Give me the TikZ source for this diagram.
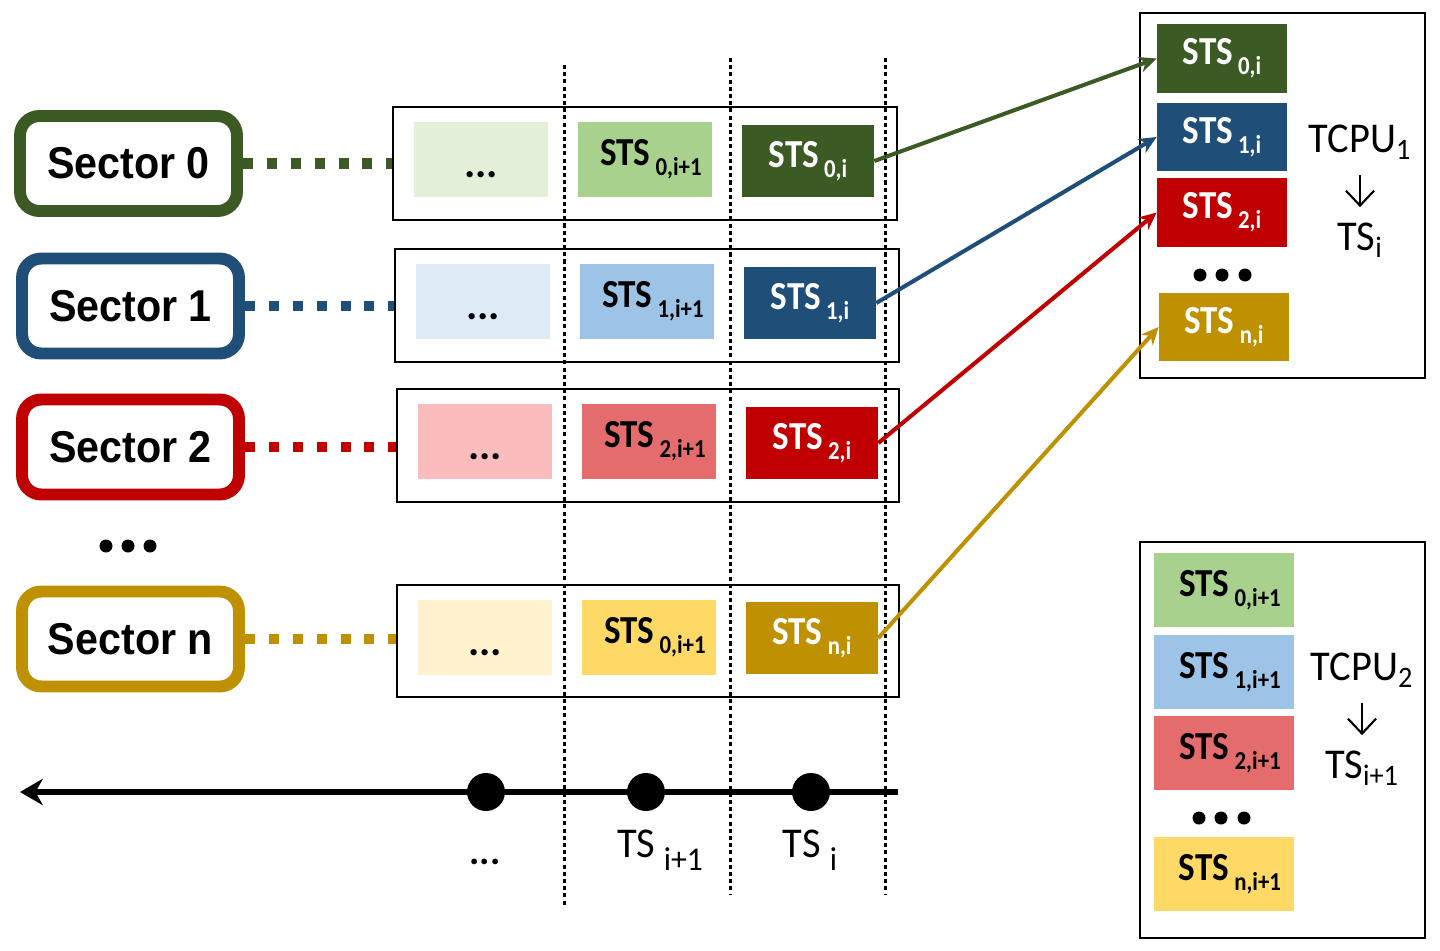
\documentclass[tikz,border=0pt]{standalone}
\usepackage{graphicx}
\usepackage{fontspec}
\setmainfont{Carlito}
\newfontfamily\arialf{Liberation Sans}
\usetikzlibrary{arrows.meta}
\definecolor{gD}{HTML}{3C5A24}
\definecolor{gM}{HTML}{A9D18E}
\definecolor{gL}{HTML}{E2F0D9}
\definecolor{bD}{HTML}{1F4E79}
\definecolor{bM}{HTML}{9DC3E6}
\definecolor{bL}{HTML}{DEEBF7}
\definecolor{rD}{HTML}{C00000}
\definecolor{rM}{HTML}{E46C6C}
\definecolor{rL}{HTML}{FABCBC}
\definecolor{yD}{HTML}{BF9000}
\definecolor{yM}{HTML}{FFD966}
\definecolor{yL}{HTML}{FFF2CC}
\newcommand\stsx[1]{\scalebox{1}[1.13]{STS\hspace{3pt}\raisebox{-5pt}{\fontsize{13}{14}\selectfont #1}}}
\newcommand\stsy[1]{\hspace*{6.8pt}\stsx{#1}}
\newcommand\celldots{\vphantom{S}\smash{\raisebox{-4pt}{\fontsize{24}{26}\selectfont ...}}}
\begin{document}
\begin{tikzpicture}[x=0.02cm,y=-0.02cm,
  sector/.style={draw, line width=6.8pt, rounded corners=11pt, fill=white,
    minimum width=4.34cm, minimum height=1.9cm, inner sep=0pt,
    font=\arialf\bfseries\fontsize{23.5}{26}\selectfont},
  rowbox/.style={draw, line width=1.1pt, minimum width=10.08cm, minimum height=2.26cm, inner sep=0pt},
  cell/.style={minimum width=2.68cm, minimum height=1.5cm, inner sep=0pt,
    font=\bfseries\fontsize{20}{24}\selectfont},
  dcell/.style={cell, minimum width=2.64cm, minimum height=1.44cm, text=white},
  rcell/.style={cell, minimum width=2.6cm, minimum height=1.38cm},
  qcell/.style={cell, minimum width=2.8cm, minimum height=1.48cm},
  link/.style={line width=5.7pt, dash pattern=on 5.7pt off 7.9pt},
  vdot/.style={line width=1.7pt, dash pattern=on 2.3pt off 1.8pt},
  feed/.style={line width=2.3pt, -{Stealth[length=10pt,width=9pt]}},
  tdot/.style={circle, fill=black, minimum size=0.76cm, inner sep=0pt},
  bigtxt/.style={font=\fontsize{23}{26}\selectfont, inner sep=0pt},
  down/.style={line width=1.2pt, -{Straight Barb[length=8.5pt,width=16pt]},
    shorten <=18.7pt, shorten >=18.7pt},
]
\useasboundingbox (0,0) rectangle (1440,950);

% row boxes
\node[rowbox] (row0) at (645,163.5) {};
\node[rowbox] (row1) at (647,305.5) {};
\node[rowbox, minimum width=10.04cm] (row2) at (648,445.5) {};
\node[rowbox, minimum width=10.04cm, minimum height=2.24cm] (rown) at (648,641) {};

% vertical dotted lines
\draw[vdot] (564,65) -- (564,905);
\draw[vdot] (730,58) -- (730,895);
\draw[vdot] (885,58) -- (885,895);

% cells row 0
\node[cell, fill=gL] (l0) at (481,159.5) {\celldots};
\node[cell, fill=gM] (m0) at (645,159.5) {\stsy{0,i+1}};
\node[dcell, fill=gD] (d0) at (808,161) {\stsx{0,i}};
% row 1
\node[cell, fill=bL] (l1) at (483,301.5) {\celldots};
\node[cell, fill=bM] (m1) at (647,301.5) {\stsy{1,i+1}};
\node[dcell, fill=bD] (d1) at (810,303) {\stsx{1,i}};
% row 2
\node[cell, fill=rL] (l2) at (485,441.5) {\celldots};
\node[cell, fill=rM] (m2) at (649,441.5) {\stsy{2,i+1}};
\node[dcell, fill=rD] (d2) at (812,443) {\stsx{2,i}};
% row n
\node[cell, fill=yL] (ln) at (485,637) {\celldots};
\node[cell, fill=yM] (mn) at (649,637) {\stsy{0,i+1}};
\node[dcell, fill=yD] (dn) at (812,638) {\stsx{n,i}};

% sectors
\node[sector, draw=gD] (s0) at (128.5,163.5) {\scalebox{1}[1.08]{Sector 0}};
\node[sector, draw=bD] (s1) at (130.5,306) {\scalebox{1}[1.08]{Sector 1}};
\node[sector, draw=rD] (s2) at (130.5,447) {\scalebox{1}[1.08]{Sector 2}};
\node[sector, draw=yD] (sn) at (130.5,639) {\scalebox{1}[1.08]{Sector n}};

\draw[link, draw=gD] (s0.east) -- (s0.east -| row0.west);
\draw[link, draw=bD] (s1.east) -- (s1.east -| row1.west);
\draw[link, draw=rD] (s2.east) -- (s2.east -| row2.west);
\draw[link, draw=yD] (sn.east) -- (sn.east -| rown.west);

% left ellipsis dots
\fill (106,546) circle (6.5);
\fill (128,546) circle (6.5);
\fill (150,546) circle (6.5);

% TCPU1 box
\node[draw, line width=1.1pt, minimum width=5.7cm, minimum height=7.3cm, inner sep=0pt] (cpu1) at (1282.5,195.5) {};
\node[rcell, fill=gD, text=white] (r0) at (1222,58.5) {\stsx{0,i}};
\node[rcell, fill=bD, text=white] (r1) at (1222,137) {\stsx{1,i}};
\node[rcell, fill=rD, text=white] (r2) at (1222,212.5) {\stsx{2,i}};
\node[rcell, fill=yD, text=white] (rn) at (1224,327) {\stsx{n,i}};
\fill (1200,275) circle (6.5);
\fill (1222,275) circle (6.5);
\fill (1245,275) circle (6.5);
\node[bigtxt] (tc1) at (1360,142) {\scalebox{1}[1.05]{TCPU\textsubscript{1}}};
\node[bigtxt] (ts1) at (1360,240) {\scalebox{1}[1.05]{TS\textsubscript{i}}};
\draw[down] (tc1.center) -- (ts1.center);

% TCPU2 box
\node[draw, line width=1.1pt, minimum width=5.7cm, minimum height=7.92cm, inner sep=0pt] (cpu2) at (1282.5,740) {};
\node[qcell, fill=gM] (q0) at (1224,590) {\stsy{0,i+1}};
\node[qcell, fill=bM] (q1) at (1224,672) {\stsy{1,i+1}};
\node[qcell, fill=rM] (q2) at (1224,753) {\stsy{2,i+1}};
\node[qcell, fill=yM] (qn) at (1224,874) {\stsy{n,i+1}};
\fill (1199,818) circle (6.5);
\fill (1221,818) circle (6.5);
\fill (1244,818) circle (6.5);
\node[bigtxt] (tc2) at (1362,670) {\scalebox{1}[1.05]{TCPU\textsubscript{2}}};
\node[bigtxt] (ts2) at (1362,768) {\scalebox{1}[1.05]{TS\textsubscript{i+1}}};
\draw[down] (tc2.center) -- (ts2.center);

% feed arrows
\draw[feed, draw=gD] (d0.east) -- (r0.west);
\draw[feed, draw=bD] (d1.east) -- (r1.west);
\draw[feed, draw=rD] (d2.east) -- (r2.west);
\draw[feed, draw=yD] (dn.east) -- (rn.west);

% timeline
\coordinate (tstart) at (898,792);
\coordinate (tend) at (20,792);
\draw[line width=3.4pt, -{Stealth[length=13pt,width=15pt]}] (tstart) -- (tend);
\node[tdot] (t0) at (486,792) {};
\node[tdot] (t1) at (646,792) {};
\node[tdot] (t2) at (811,792) {};
\node[font=\bfseries\fontsize{22}{26}\selectfont, inner sep=0pt] (tl0) at (485,862) {...};
\node[bigtxt] (tl1) at (660,850) {\scalebox{1}[1.05]{TS\hspace{5pt}\raisebox{-7pt}{\fontsize{18}{20}\selectfont i+1}}};
\node[bigtxt] (tl2) at (810,850) {\scalebox{1}[1.05]{TS\hspace{5pt}\raisebox{-7pt}{\fontsize{18}{20}\selectfont i}}};
\end{tikzpicture}
\end{document}
